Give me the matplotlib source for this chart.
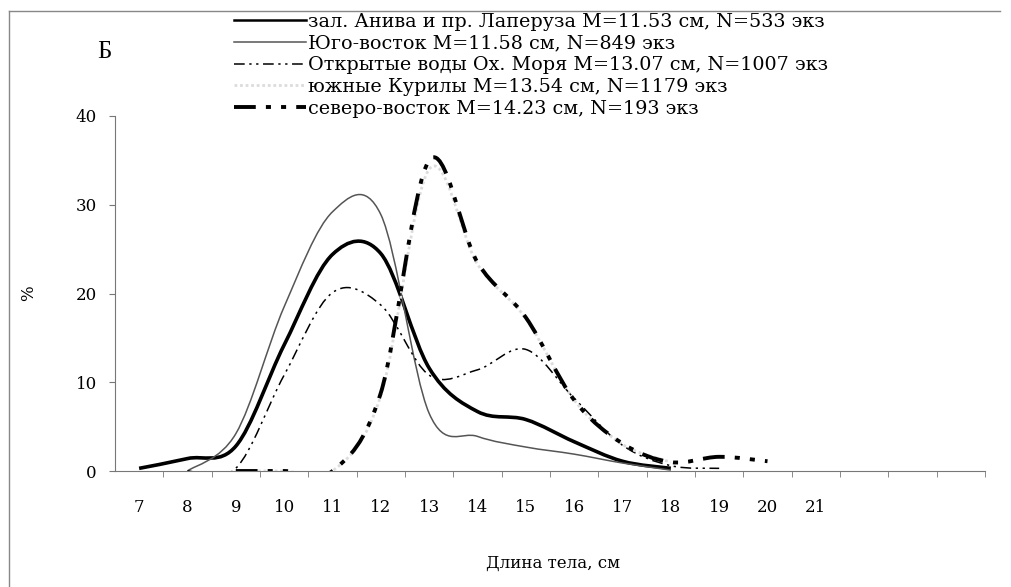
import numpy as np
import matplotlib
matplotlib.use("Agg")
import matplotlib.pyplot as plt
from matplotlib.path import Path
from matplotlib.patches import PathPatch
from matplotlib.lines import Line2D

# ---------------- data ----------------
categories = list(range(7, 22))          # body length, cm (tick labels)
x_aniva = [7, 8, 9, 10, 11, 12, 13, 14, 15, 16, 17, 18]
y_aniva = [0.3, 1.4, 2.8, 14.2, 24.4, 24.5, 11.6, 6.7, 5.8, 3.3, 1.1, 0.3]

x_se = [8, 9, 10, 11, 12, 13, 14, 15, 16, 17, 18]
y_se = [0.0, 4.2, 18.5, 29.2, 28.9, 6.5, 3.9, 2.7, 1.9, 0.9, 0.1]

x_open = [8, 9, 10, 11, 12, 13, 14, 15, 16, 17, 18, 19]
y_open = [0.0, 0.3, 10.8, 20.1, 18.7, 10.8, 11.4, 13.7, 8.2, 2.9, 0.6, 0.3]

x_kuril = [9, 10, 11, 12, 13, 14, 15, 16, 17, 18]
y_kuril = [0.0, 0.0, 0.0, 8.5, 34.0, 23.3, 17.2, 8.0, 3.0, 1.0]

x_ne = [9, 10, 11, 12, 13, 14, 15, 16, 17, 18, 19, 20]
y_ne = [0.0, 0.0, 0.0, 8.8, 35.0, 23.5, 17.3, 8.0, 3.1, 1.0, 1.6, 1.1]

labels = [
    "зал. Анива и пр. Лаперуза M=11.53 см, N=533 экз",
    "Юго-восток M=11.58 см, N=849 экз",
    "Открытые воды Ох. Моря M=13.07 см, N=1007 экз",
    "южные Курилы M=13.54 см, N=1179 экз",
    "северо-восток M=14.23 см, N=193 экз",
]

# ---------------- styling ----------------
plt.rcParams['font.family'] = ['DejaVu Serif', 'Liberation Serif']
FS = 12
FS_LEG = 13.8

fig = plt.figure(figsize=(10.11, 5.87), dpi=100)
ax = fig.add_axes([0.1137, 0.1976, 0.8606, 0.6048])


def smooth_path(xs, ys):
    """Excel-like smoothed line: cubic Bezier segments through the data points."""
    xs = np.asarray(xs, float)
    ys = np.asarray(ys, float)
    n = len(xs)
    verts = [(xs[0], ys[0])]
    codes = [Path.MOVETO]
    for i in range(n - 1):
        x0, y0 = (xs[i - 1], ys[i - 1]) if i > 0 else (xs[i], ys[i])
        x3, y3 = (xs[i + 2], ys[i + 2]) if i + 2 < n else (xs[i + 1], ys[i + 1])
        c1 = (xs[i] + (xs[i + 1] - x0) / 6.0, ys[i] + (ys[i + 1] - y0) / 6.0)
        c2 = (xs[i + 1] - (x3 - xs[i]) / 6.0, ys[i + 1] - (y3 - ys[i]) / 6.0)
        verts += [c1, c2, (xs[i + 1], ys[i + 1])]
        codes += [Path.CURVE4] * 3
    return Path(verts, codes)


styles = [
    dict(color="black", lw=2.6, ls="-"),
    dict(color="#555555", lw=1.1, ls="-"),
    dict(color="black", lw=1.1, ls=(0, (7, 3, 1.5, 3, 1.5, 3))),
    dict(color="#dcdcdc", lw=2.0, ls=(0, (1, 1))),
    dict(color="black", lw=2.8, ls=(0, (5.6, 2.6, 1.3, 2.6, 1.3, 2.6))),
]
series = [(x_aniva, y_aniva), (x_se, y_se), (x_open, y_open),
          (x_kuril, y_kuril), (x_ne, y_ne)]
draw_order = [3, 2, 1, 0, 4]
for k in draw_order:
    xs, ys = series[k]
    st = styles[k]
    patch = PathPatch(smooth_path(xs, ys), fill=False, edgecolor=st["color"],
                      lw=st["lw"], linestyle=st["ls"], capstyle="butt",
                      joinstyle="round", zorder=3 + k)
    ax.add_patch(patch)

ax.set_xlim(6.5, 24.5)
ax.set_ylim(0, 40)

for s in ["top", "right"]:
    ax.spines[s].set_visible(False)
ax.spines["left"].set_color("#777777")
ax.spines["bottom"].set_color("#777777")
ax.spines["left"].set_linewidth(0.8)
ax.spines["bottom"].set_linewidth(0.8)

ax.set_xticks(categories)
ax.set_xticklabels([str(c) for c in categories], fontsize=FS)
ax.set_xticks(np.arange(7.5, 25.0, 1.0), minor=True)
ax.tick_params(axis="x", which="major", length=0, pad=20)
ax.tick_params(axis="x", which="minor", length=4, direction="out", color="#777777")
ax.set_yticks([0, 10, 20, 30, 40])
ax.set_yticklabels(["0", "10", "20", "30", "40"], fontsize=FS)
ax.tick_params(axis="y", length=4, direction="out", color="#777777", pad=9)
ax.set_facecolor("none")

# axis titles
fig.text(553 / 1011, 1 - 563 / 587, "Длина тела, см", ha="center", va="center", fontsize=FS)
fig.text(29 / 1011, 1 - 293 / 587, "%", ha="center", va="center", rotation=90, fontsize=FS)
fig.text(104 / 1011, 1 - 52 / 587, "Б", ha="center", va="center", fontsize=18,
         family=['Liberation Serif', 'DejaVu Serif'])

# legend
handles = [Line2D([], [], color=st["color"], lw=st["lw"], linestyle=st["ls"]) for st in styles]
handles[0] = Line2D([], [], color="black", lw=1.8, linestyle="-")
leg = fig.legend(handles, labels, loc="upper left", bbox_to_anchor=(224 / 1011, 1 - 3 / 587),
                 frameon=False, fontsize=FS_LEG, handlelength=3.8, handletextpad=0.1,
                 labelspacing=0.2, borderpad=0.0)

# frame of the original figure (left and top border)
fig.add_artist(Line2D([9 / 1011, 9 / 1011], [0, 1 - 11 / 587], transform=fig.transFigure,
                      color="#888888", lw=1.0))
fig.add_artist(Line2D([9 / 1011, 1000 / 1011], [1 - 11 / 587, 1 - 11 / 587],
                      transform=fig.transFigure, color="#888888", lw=1.0))

fig.savefig("out.png", dpi=100, facecolor="white")
